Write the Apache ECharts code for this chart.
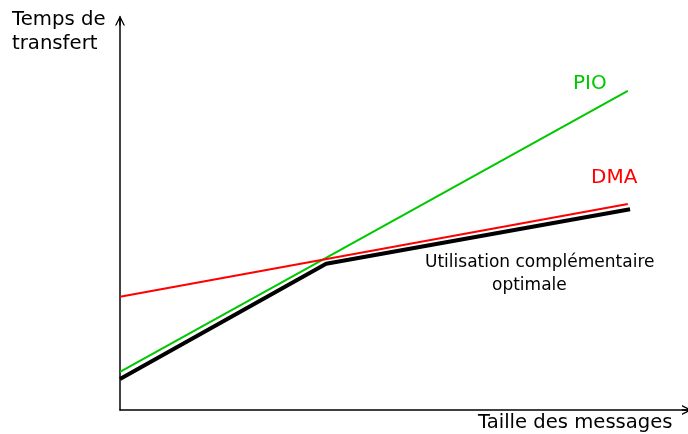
<!DOCTYPE html>
<html><head><meta charset="utf-8">
<script src="https://cdn.jsdelivr.net/npm/echarts@6/dist/echarts.min.js"></script>
<style>html,body{margin:0;padding:0;background:#fff}#c{width:688px;height:434px}</style>
</head><body><div id="c"></div>
<script>
// Data (arbitrary units: x = message size, y = transfer time)
const pioX = [0, 89.4];
const pioY = [9.7, 81.2];
const dmaX = [0, 89.4];
const dmaY = [28.8, 52.4];
const optX = [0, 36.3, 89.8];
const optY = [7.9, 37.2, 51.1];
const labels = {pio: 'PIO', dma: 'DMA', opt: ['Utilisation complémentaire', 'optimale'], yName: ['Temps de', 'transfert'], xName: 'Taille des messages'};

const zip = (xs, ys) => xs.map((x, i) => [x, ys[i]]);
const F = (s) => s + 'px "DejaVu Sans"';
const chevron = 'path://M0,10 L5,0 L10,10 L8.6,10 L5,2.8 L1.4,10 Z M4.3,1 L5.7,1 L5.7,10 L4.3,10 Z';
const axisCommon = {
  axisTick: {show: false}, axisLabel: {show: false}, splitLine: {show: false}
};

const chart = echarts.init(document.getElementById('c'), null, {renderer: 'canvas'});
chart.setOption({
  animation: false,
  backgroundColor: '#fff',
  grid: {left: 120, right: 0, top: 17, bottom: 24, containLabel: false},
  xAxis: Object.assign({type: 'value', min: 0, max: 100,
    axisLine: {show: true, lineStyle: {color: '#000', width: 1.5}, symbol: ['none', chevron], symbolSize: [11, 10], symbolOffset: [0, -1]}}, axisCommon),
  yAxis: Object.assign({type: 'value', min: 0, max: 100,
    axisLine: {show: true, lineStyle: {color: '#000', width: 1.5}, symbol: ['none', chevron], symbolSize: [11, 10], symbolOffset: [0, -3.5]}}, axisCommon),
  series: [
    {type: 'line', data: zip(pioX, pioY), symbol: 'none', lineStyle: {color: '#00c800', width: 2}, z: 3},
    {type: 'line', data: zip(dmaX, dmaY), symbol: 'none', lineStyle: {color: '#ff0000', width: 2}, z: 3},
    {type: 'line', data: zip(optX, optY), symbol: 'none', lineStyle: {color: '#000', width: 4}, z: 2}
  ],
  graphic: [
    {type: 'text', x: 12, y: 10, style: {text: labels.yName[0], font: F(19.7), fill: '#000'}},
    {type: 'text', x: 12, y: 34, style: {text: labels.yName[1], font: F(19.7), fill: '#000'}},
    {type: 'text', x: 478, y: 413, style: {text: labels.xName, font: F(19.6), fill: '#000'}},
    {type: 'text', x: 573, y: 73.5, style: {text: labels.pio, font: F(20), fill: '#00c800'}},
    {type: 'text', x: 591, y: 168, style: {text: labels.dma, font: F(20), fill: '#ff0000'}},
    {type: 'text', x: 425, y: 254.5, style: {text: labels.opt[0], font: F(17), fill: '#000'}},
    {type: 'text', x: 492, y: 277.5, style: {text: labels.opt[1], font: F(17), fill: '#000'}}
  ]
});
</script></body></html>
